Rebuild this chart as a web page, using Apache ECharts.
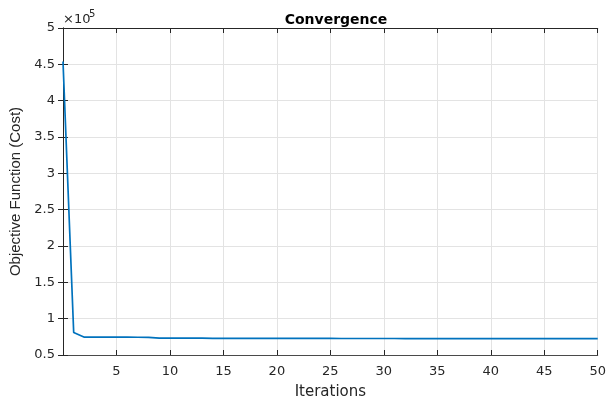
<!DOCTYPE html>
<html>
<head>
<meta charset="utf-8">
<script src="https://cdn.jsdelivr.net/npm/echarts@6/dist/echarts.min.js"></script>
<style>
  html, body { margin: 0; padding: 0; background: #fff; }
  #chart { width: 609px; height: 405px; }
</style>
</head>
<body>
<div id="chart"></div>
<script>
const iterations = [0, 1, 2, 3, 4, 5, 6, 7, 8, 9, 10, 11, 12, 13, 14, 15, 16, 17, 18, 19, 20,
  21, 22, 23, 24, 25, 26, 27, 28, 29, 30, 31, 32, 33, 34, 35, 36, 37, 38, 39, 40,
  41, 42, 43, 44, 45, 46, 47, 48, 49, 50];
const costs = [454000, 81000, 74500, 74500, 74500, 74500, 74500, 74400, 74300, 73300, 73200,
  73200, 73100, 73100, 73000, 73000, 73000, 72900, 72900, 72900, 72900,
  72800, 72800, 72800, 72800, 72800, 72700, 72700, 72700, 72700, 72700,
  72700, 72600, 72600, 72600, 72600, 72600, 72600, 72600, 72500, 72500,
  72500, 72500, 72500, 72500, 72500, 72500, 72500, 72500, 72500, 72500];
const xTicks = { min: 0, max: 50, step: 5 };
const yTicks = { min: 50000, max: 500000, step: 50000 };

const chart = echarts.init(document.getElementById('chart'));
const axisColor = '#262626';
const font = 'DejaVu Sans';

// box around the plot: extra top/right axes with inward ticks only
const boxAxis = {
  axisLine: { show: true, lineStyle: { color: axisColor, width: 1 } },
  axisTick: { show: true, inside: true, length: 5, lineStyle: { color: axisColor } },
  axisLabel: { show: false },
  splitLine: { show: false }
};

chart.setOption({
  animation: false,
  backgroundColor: '#fff',
  title: {
    text: 'Convergence',
    left: 331,
    top: 8,
    textAlign: 'center',
    textStyle: { fontFamily: font, fontSize: 14, fontWeight: 'bold', color: '#000' }
  },
  grid: { left: 62, right: 8, top: 28, bottom: 41, containLabel: false },
  xAxis: [{
    type: 'value',
    min: xTicks.min, max: xTicks.max, interval: xTicks.step,
    name: 'Iterations',
    nameLocation: 'middle',
    nameGap: 30,
    nameTextStyle: { fontFamily: font, fontSize: 15, color: '#262626' },
    axisLine: { show: true, onZero: false, lineStyle: { color: '#4a4a4a' } },
    axisTick: { show: true, inside: true, length: 5, lineStyle: { color: axisColor } },
    axisLabel: {
      fontFamily: font, fontSize: 13, color: '#262626', margin: 10,
      formatter: v => (v === 0 ? '' : String(v))
    },
    splitLine: { show: true, lineStyle: { color: '#e3e3e3', width: 1 } }
  }, Object.assign({
    type: 'value', position: 'top',
    min: xTicks.min, max: xTicks.max, interval: xTicks.step
  }, boxAxis)],
  yAxis: [{
    type: 'value',
    min: yTicks.min, max: yTicks.max, interval: yTicks.step,
    name: 'Objective Function (Cost)',
    nameLocation: 'middle',
    nameRotate: 90,
    nameGap: 40,
    nameTextStyle: { fontFamily: 'Liberation Sans', fontSize: 15, color: '#262626' },
    axisLine: { show: true, onZero: false, lineStyle: { color: '#4a4a4a' } },
    axisTick: { show: true, inside: true, length: 5, lineStyle: { color: axisColor } },
    axisLabel: {
      fontFamily: font, fontSize: 13, color: '#262626', margin: 8,
      formatter: v => String(+(v / 1e5).toFixed(1))
    },
    splitLine: { show: true, lineStyle: { color: '#e3e3e3', width: 1 } }
  }, Object.assign({
    type: 'value', position: 'right',
    min: yTicks.min, max: yTicks.max, interval: yTicks.step
  }, boxAxis)],
  graphic: [
    { type: 'text', left: 63, top: 13, style: { text: '\u00d710', fontFamily: font, fontSize: 13, fill: '#262626' } },
    { type: 'text', left: 89, top: 9, style: { text: '5', fontFamily: font, fontSize: 10, fill: '#262626' } }
  ],
  series: [{
    type: 'line',
    data: iterations.map((it, i) => [it, costs[i]]),
    showSymbol: false,
    lineStyle: { color: '#0072BD', width: 1.7 },
    itemStyle: { color: '#0072BD' },
    clip: true
  }]
});
</script>
</body>
</html>
